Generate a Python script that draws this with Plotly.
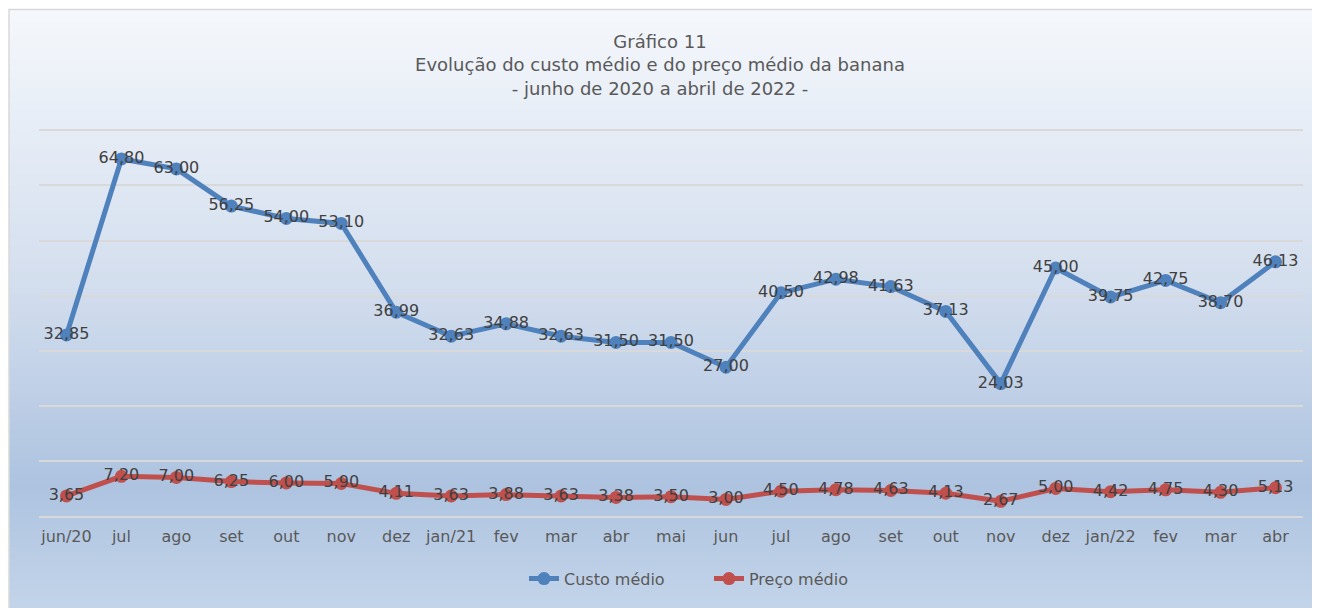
import plotly.graph_objects as go

categories = ["jun/20", "jul", "ago", "set", "out", "nov", "dez", "jan/21", "fev", "mar",
              "abr", "mai", "jun", "jul", "ago", "set", "out", "nov", "dez", "jan/22",
              "fev", "mar", "abr"]
custo_medio = [32.85, 64.80, 63.00, 56.25, 54.00, 53.10, 36.99, 32.63, 34.88, 32.63,
               31.50, 31.50, 27.00, 40.50, 42.98, 41.63, 37.13, 24.03, 45.00, 39.75,
               42.75, 38.70, 46.13]
preco_medio = [3.65, 7.20, 7.00, 6.25, 6.00, 5.90, 4.11, 3.63, 3.88, 3.63,
               3.38, 3.50, 3.00, 4.50, 4.78, 4.63, 4.13, 2.67, 5.00, 4.42,
               4.75, 4.30, 5.13]
title_lines = ["Gráfico 11",
               "Evolução do custo médio e do preço médio da banana",
               "- junho de 2020 a abril de 2022 -"]

# page body has an 8px margin, so the figure is sized to fill the rest of the window
W, H = 1312, 600
YMAX = 70.6
ML, MR, MT, MB = 31, 17, 119, 90
PW, PH = W - ML - MR, H - MT - MB

FONT = "DejaVu Sans"
BLUE = "#4f81bd"
RED = "#c0504d"

xs = list(range(len(categories)))

fig = go.Figure()
for name, vals, col in [("Custo médio", custo_medio, BLUE), ("Preço médio", preco_medio, RED)]:
    fig.add_trace(go.Scatter(
        x=xs, y=vals, name=name, mode="lines+markers+text",
        line=dict(color=col, width=5), marker=dict(color=col, size=13),
        texttemplate="%{y:.2f}", textposition="middle center",
        textfont=dict(family=FONT, size=16, color="#404040"),
    ))


def px_x(p):
    return (p - ML) / PW


def px_y(p):
    return (H - MB - p) / PH


def hex2rgb(h):
    h = h.lstrip("#")
    return tuple(int(h[i:i + 2], 16) for i in (0, 2, 4))


stops = [(0.0, "#f5f8fc"), (0.45, "#d3deee"), (0.78, "#adc3e0"), (1.0, "#c5d6ea")]


def grad(t):
    for (a, ca), (b, cb) in zip(stops[:-1], stops[1:]):
        if a <= t <= b:
            f = (t - a) / (b - a)
            r1, g1, b1 = hex2rgb(ca)
            r2, g2, b2 = hex2rgb(cb)
            return "rgb(%d,%d,%d)" % (round(r1 + (r2 - r1) * f), round(g1 + (g2 - g1) * f),
                                     round(b1 + (b2 - b1) * f))
    return stops[-1][1]


frame_top, frame_bot, frame_left, frame_right = 1, 614, 1, 1330
N = 160
shapes = []
step = (frame_bot - frame_top) / N
for i in range(N):
    y0 = frame_top + i * step
    y1 = y0 + step + 1
    shapes.append(dict(type="rect", xref="paper", yref="paper", layer="below",
                       x0=px_x(frame_left), x1=px_x(frame_right),
                       y0=px_y(y1), y1=px_y(y0),
                       fillcolor=grad((i + 0.5) / N), line=dict(width=0)))
shapes.append(dict(type="rect", xref="paper", yref="paper", layer="below",
                   x0=px_x(frame_left), x1=px_x(frame_right),
                   y0=px_y(frame_bot), y1=px_y(frame_top),
                   fillcolor="rgba(0,0,0,0)", line=dict(color="#d9d9d9", width=1.5)))

fig.update_layout(
    width=W, height=H,
    margin=dict(l=ML, r=MR, t=MT, b=MB, pad=0),
    paper_bgcolor="white", plot_bgcolor="rgba(0,0,0,0)",
    separators=",.",
    font=dict(family=FONT, size=16, color="#595959"),
    title=dict(text="<br>".join(title_lines), x=0.5 - 11 / PW, xanchor="center",
               xref="paper", y=1 - 40 / H, yanchor="top", yref="container",
               font=dict(family=FONT, size=18, color="#595959")),
    shapes=shapes,
    showlegend=True,
    legend=dict(orientation="h", x=0.5 + 38 / PW, xanchor="center", y=px_y(573),
                yanchor="middle", bgcolor="rgba(0,0,0,0)",
                font=dict(family=FONT, size=16, color="#595959"),
                entrywidth=140, traceorder="normal"),
    xaxis=dict(range=[-0.5, len(categories) - 0.5], tickmode="array", tickvals=xs,
               ticktext=categories, showgrid=False, zeroline=False, showline=True,
               linecolor="#d9d9d9", linewidth=1.5, ticks="", ticklabelstandoff=5,
               tickfont=dict(family=FONT, size=16, color="#595959"), fixedrange=True),
    yaxis=dict(range=[0, YMAX], tick0=0, dtick=10, showgrid=True, gridcolor="#d9d9d9",
               gridwidth=1.5, zeroline=False, showticklabels=False, ticks="",
               fixedrange=True),
)

fig.write_html("out.html")
